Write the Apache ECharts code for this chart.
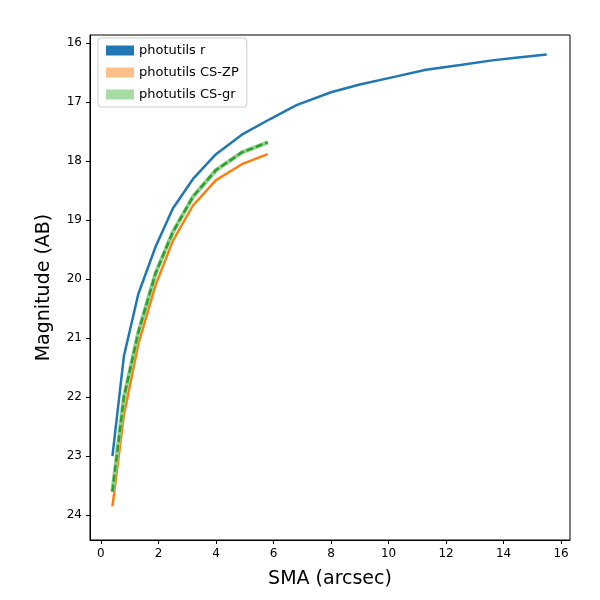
<!DOCTYPE html>
<html>
<head>
<meta charset="utf-8">
<script src="https://cdn.jsdelivr.net/npm/echarts@6/dist/echarts.min.js"></script>
</head>
<body style="margin:0">
<div id="chart" style="width:600px;height:600px"></div>
<script>
var sma = [0.4, 0.8, 1.3, 1.9, 2.5, 3.2, 4.0, 4.9, 5.9, 6.8, 8.0, 9.0, 10.2, 11.3, 12.5, 13.6, 14.5, 15.5];
var magR = [23.0, 21.3, 20.25, 19.45, 18.8, 18.3, 17.88, 17.55, 17.28, 17.05, 16.83, 16.7, 16.57, 16.45, 16.37, 16.29, 16.24, 16.19];
var smaCS = [0.4, 0.8, 1.3, 1.9, 2.5, 3.2, 4.0, 4.9, 5.8];
var magZP = [23.85, 22.3, 21.1, 20.1, 19.35, 18.75, 18.32, 18.05, 17.88];
var magGR = [23.6, 22.0, 20.9, 19.9, 19.2, 18.6, 18.15, 17.85, 17.68];

function pairs(x, y) {
	var out = [];
	for (var i = 0; i < x.length; i++) out.push([x[i], y[i]]);
	return out;
}

var font = 'DejaVu Sans';
var myChart = echarts.init(document.getElementById('chart'));
var option = {
	animation: false,
	grid: { left: 90, right: 30, top: 35, bottom: 60, show: true, borderColor: '#000', borderWidth: 1 },
	legend: {
		left: 98, top: 38, orient: 'vertical', icon: 'rect',
		itemWidth: 28, itemHeight: 10, itemGap: 9,
		borderColor: '#ccc', borderWidth: 1, borderRadius: 3, padding: [6, 8],
		textStyle: { fontFamily: font, fontSize: 13, color: '#000' },
		data: [
			{ name: 'photutils r', itemStyle: { color: '#1f77b4' } },
			{ name: 'photutils CS-ZP', itemStyle: { color: '#ffbf8a' } },
			{ name: 'photutils CS-gr', itemStyle: { color: '#a9dba4' } }
		]
	},
	xAxis: {
		type: 'value', min: -0.38, max: 16.31,
		name: 'SMA (arcsec)', nameLocation: 'middle', nameGap: 30,
		nameTextStyle: { fontFamily: font, fontSize: 19, color: '#000' },
		axisLine: { onZero: false, lineStyle: { color: '#000' } },
		axisTick: { customValues: [0, 2, 4, 6, 8, 10, 12, 14, 16], length: 4, lineStyle: { color: '#000' } },
		axisLabel: { customValues: [0, 2, 4, 6, 8, 10, 12, 14, 16], fontFamily: font, fontSize: 12, color: '#000' },
		splitLine: { show: false }
	},
	yAxis: {
		type: 'value', inverse: true, min: 15.86, max: 24.42,
		name: 'Magnitude (AB)', nameLocation: 'middle', nameGap: 36,
		nameTextStyle: { fontFamily: font, fontSize: 19, color: '#000' },
		axisLine: { show: true, onZero: false, lineStyle: { color: '#000' } },
		axisTick: { show: true, customValues: [16, 17, 18, 19, 20, 21, 22, 23, 24], length: 4, lineStyle: { color: '#000' } },
		axisLabel: { customValues: [16, 17, 18, 19, 20, 21, 22, 23, 24], fontFamily: font, fontSize: 12, color: '#000' },
		splitLine: { show: false }
	},
	series: [
		{ name: 'photutils r', type: 'line', data: pairs(sma, magR), showSymbol: false,
		  lineStyle: { color: '#1f77b4', width: 2.5 }, itemStyle: { color: '#1f77b4' } },
		{ name: 'photutils CS-ZP', type: 'line', data: pairs(smaCS, magZP), showSymbol: false,
		  lineStyle: { color: '#ff7f0e', width: 2.5 }, itemStyle: { color: '#ffbf8a' } },
		{ name: 'photutils CS-gr', type: 'line', data: pairs(smaCS, magGR), showSymbol: false,
		  lineStyle: { color: '#8fd18a', width: 4 }, itemStyle: { color: '#a9dba4' } },
		{ name: 'gr dashed', type: 'line', data: pairs(smaCS, magGR), showSymbol: false,
		  lineStyle: { color: '#2ca02c', width: 2.5, type: [7, 3] } }
	]
};
myChart.setOption(option);
</script>
</body>
</html>
